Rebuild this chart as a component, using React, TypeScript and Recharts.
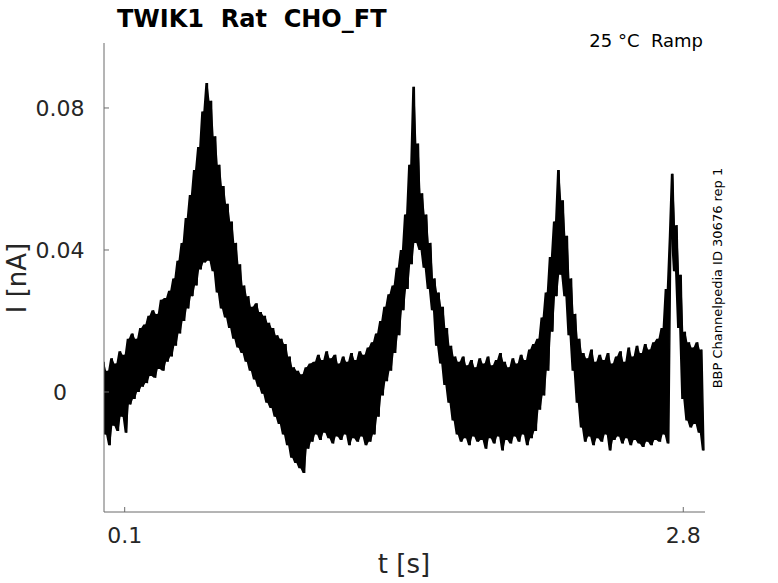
import React from "react";
import { ComposedChart, Line, Area, XAxis, YAxis } from "recharts";

// Recorded current (nA), sampled every 10 ms; consecutive samples alternate
// between the upper and lower edge of the overlaid noisy sweeps.
const SAMPLE_DT = 0.01;

const rampRise1 = [
  0.0085, -0.012, 0.006, -0.015, 0.0095, -0.0095, 0.008, -0.011, 0.0115, -0.007,
  0.0105, -0.0115, 0.015, -0.0035, 0.0165, -0.002, 0.015, 0.0, 0.018, 0.0015,
  0.019, 0.0025, 0.0215, 0.0045, 0.023, 0.004, 0.022, 0.0065, 0.026, 0.006,
  0.0265, 0.0085, 0.0285, 0.01, 0.032, 0.013, 0.037, 0.0165, 0.042, 0.02, 0.049,
];
const peak1 = [
  0.0235, 0.0555, 0.027, 0.0625, 0.03, 0.069, 0.0345, 0.079, 0.0365, 0.087,
  0.037, 0.082, 0.034, 0.072, 0.028, 0.064, 0.0235, 0.058, 0.021, 0.053,
];
const decay1 = [
  0.018, 0.048, 0.015, 0.042, 0.0125, 0.036, 0.011, 0.03, 0.0085, 0.027,
  0.006, 0.024, 0.0035, 0.025, 0.0015, 0.0225, -0.0005, 0.0215, -0.003, 0.0195,
  -0.0045, 0.018, -0.007, 0.016, -0.009, 0.015, -0.012, 0.0135, -0.015, 0.01,
  -0.0185, 0.007, -0.02, 0.006, -0.0215, 0.005, -0.0228, 0.007, -0.016, 0.008,
];
const plateau1 = [
  -0.014, 0.0085, -0.012, 0.0105, -0.0135, 0.009, -0.0115, 0.0115, -0.013, 0.0095,
  -0.0145, 0.0105, -0.0125, 0.008, -0.0135, 0.01, -0.012, 0.0085, -0.015, 0.011,
  -0.013, 0.009, -0.014, 0.0115, -0.0125, 0.0105, -0.015, 0.0125, -0.014, 0.014,
  -0.012, 0.0165, -0.007, 0.02, -0.001, 0.024, 0.003, 0.0275, 0.006, 0.03,
];
const peak2 = [
  0.011, 0.035, 0.016, 0.04, 0.023, 0.05, 0.029, 0.064, 0.036, 0.086,
  0.042, 0.07, 0.04, 0.056, 0.035, 0.05, 0.029, 0.042, 0.023, 0.032,
];
const plateau2 = [
  0.013, 0.028, 0.008, 0.024, 0.002, 0.018, -0.003, 0.013, -0.008, 0.01,
  -0.012, 0.0085, -0.014, 0.01, -0.013, 0.0075, -0.015, 0.009, -0.0125, 0.007,
  -0.014, 0.0095, -0.0135, 0.008, -0.016, 0.01, -0.013, 0.0075, -0.0145, 0.009,
  -0.0125, 0.011, -0.0165, 0.0085, -0.0135, 0.007, -0.0145, 0.0095, -0.0125, 0.008,
  -0.014, 0.0105, -0.012, 0.009, -0.015, 0.012, -0.013, 0.0135, -0.011, 0.015,
];
const peak3 = [
  -0.005, 0.021, -0.001, 0.028, 0.006, 0.038, 0.017, 0.048, 0.027, 0.0625,
  0.033, 0.054, 0.027, 0.044, 0.016, 0.032, 0.006, 0.022, -0.003, 0.015,
];
const plateau3 = [
  -0.01, 0.011, -0.014, 0.0095, -0.0125, 0.012, -0.015, 0.0085, -0.013, 0.0105,
  -0.014, 0.009, -0.012, 0.011, -0.0165, 0.008, -0.0135, 0.01, -0.0125, 0.0115,
  -0.0145, 0.0085, -0.013, 0.0125, -0.015, 0.01, -0.0135, 0.013, -0.0145, 0.011,
  -0.0155, 0.0135, -0.014, 0.012, -0.015, 0.014, -0.0135, 0.015,
];
const peak4 = [
  -0.014, 0.018, -0.012, 0.029, -0.0145, 0.044, 0.0615, 0.034, 0.047, 0.018,
  0.033, -0.002, 0.017, -0.008, 0.014, -0.01, 0.0125, -0.009, 0.014, -0.0115,
  0.012, -0.0165,
];

const xTicks = [0.1, 2.8];
const xTickLabels = ["0.1", "2.8"];
const yTicks = [0, 0.04, 0.08];
const yTickLabels = ["0", "0.04", "0.08"];

const current = [
  ...rampRise1, ...peak1, ...decay1, ...plateau1, ...peak2,
  ...plateau2, ...peak3, ...plateau3, ...peak4,
];
// The dense overlap of the sweeps: span between each sample and its neighbour.
const data = current.map((v, k) => {
  const next = k + 1 < current.length ? current[k + 1] : v;
  return {
    t: Math.round(k * SAMPLE_DT * 100) / 100,
    i: v,
    band: [Math.min(v, next), Math.max(v, next)],
  };
});

const FONT = "DejaVu Sans";
const AXIS = "#6b6b6b";
const TXT = "#262626";

const YTick = (props: any) => {
  const { x, y, payload } = props;
  const idx = yTicks.indexOf(payload.value);
  return (
    <g>
      <line x1={x} y1={y} x2={x + 5} y2={y} stroke={AXIS} strokeWidth={1} />
      <text x={x - 44} y={y} dy="0.36em" textAnchor="middle" fontSize={22} fill={TXT} fontFamily={FONT}>
        {idx >= 0 ? yTickLabels[idx] : String(payload.value)}
      </text>
    </g>
  );
};

const XTick = (props: any) => {
  const { x, y, payload } = props;
  const idx = xTicks.indexOf(payload.value);
  return (
    <g>
      <line x1={x} y1={y} x2={x} y2={y - 5} stroke={AXIS} strokeWidth={1} />
      <text x={x} y={y + 31} textAnchor="middle" fontSize={22} fill={TXT} fontFamily={FONT}>
        {idx >= 0 ? xTickLabels[idx] : String(payload.value)}
      </text>
    </g>
  );
};

export default function App() {
  return (
    <div style={{ position: "absolute", left: 0, top: 0, width: 778, height: 583, background: "#fff" }}>
      <ComposedChart
        width={778}
        height={583}
        data={data}
        margin={{ top: 43, right: 73, bottom: 41, left: 44 }}
      >
        <XAxis
          type="number"
          dataKey="t"
          domain={[0, 2.905]}
          ticks={xTicks}
          tickSize={0}
          tickMargin={0}
          tickLine={false}
          tick={<XTick />}
          axisLine={{ stroke: AXIS, strokeWidth: 1 }}
          height={30}
          allowDataOverflow
        />
        <YAxis
          type="number"
          domain={[-0.0338, 0.0983]}
          ticks={yTicks}
          tickSize={0}
          tickMargin={0}
          tickLine={false}
          tick={<YTick />}
          axisLine={{ stroke: AXIS, strokeWidth: 1 }}
          width={60}
          allowDataOverflow
        />
        <Area
          type="linear"
          dataKey="band"
          stroke="none"
          fill="#000"
          fillOpacity={1}
          isAnimationActive={false}
        />
        <Line
          type="linear"
          dataKey="i"
          stroke="#000"
          strokeWidth={1.4}
          dot={false}
          isAnimationActive={false}
        />
      </ComposedChart>
      <svg
        width={778}
        height={583}
        style={{ position: "absolute", left: 0, top: 0, pointerEvents: "none" }}
      >
        <text x={117} y={27} fontSize={24} fontWeight="bold" fill="#000" fontFamily={FONT} style={{ whiteSpace: "pre" }}>
          {"TWIK1  Rat  CHO_FT"}
        </text>
        <text x={703} y={47} textAnchor="end" fontSize={18} fill="#000" fontFamily={FONT} style={{ whiteSpace: "pre" }}>
          {"25 °C  Ramp"}
        </text>
        <text x={404} y={573} textAnchor="middle" fontSize={26} fill={TXT} fontFamily={FONT}>
          t [s]
        </text>
        <text
          x={17}
          y={278}
          textAnchor="middle"
          dominantBaseline="central"
          fontSize={26}
          fill={TXT}
          fontFamily={FONT}
          transform="rotate(-90 17 278)"
        >
          I [nA]
        </text>
        <text
          x={717}
          y={278}
          textAnchor="middle"
          dominantBaseline="central"
          fontSize={13}
          fill="#000"
          fontFamily={FONT}
          transform="rotate(-90 717 278)"
        >
          BBP Channelpedia ID 30676 rep 1
        </text>
      </svg>
    </div>
  );
}
